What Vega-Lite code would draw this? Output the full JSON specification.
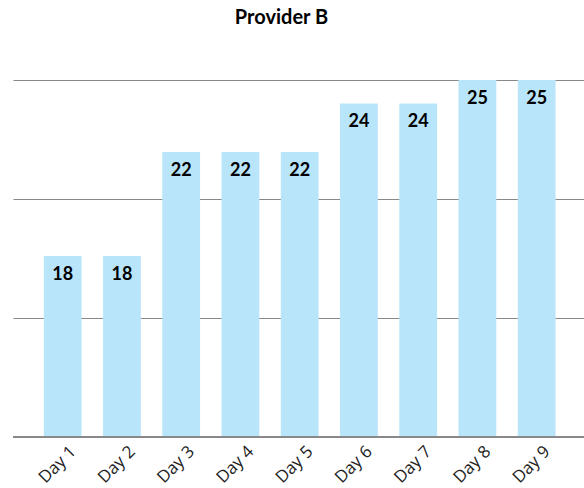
{
  "$schema": "https://vega.github.io/schema/vega-lite/v6.json",
  "autosize": "none",
  "width": 571,
  "height": 357,
  "padding": {"left": 13, "top": 80, "right": 0, "bottom": 51},
  "background": "white",
  "title": {"text": "Provider B", "font": "Lato", "fontSize": 20, "fontWeight": "bold", "color": "#000000", "anchor": "middle", "offset": 52, "dx": -17},
  "data": {"values": [
    {"day": "Day 1", "value": 18},
    {"day": "Day 2", "value": 18},
    {"day": "Day 3", "value": 22},
    {"day": "Day 4", "value": 22},
    {"day": "Day 5", "value": 22},
    {"day": "Day 6", "value": 24},
    {"day": "Day 7", "value": 24},
    {"day": "Day 8", "value": 25},
    {"day": "Day 9", "value": 25}
  ]},
  "encoding": {
    "x": {"field": "day", "type": "nominal", "sort": null,
      "scale": {"paddingInner": 0.362, "paddingOuter": 0.5, "align": 0.52},
      "axis": {"title": null, "labelAngle": -45, "labelFont": "Open Sans", "labelFontSize": 17, "labelColor": "#222222", "ticks": false, "domain": false, "labelPadding": 6, "labelOffset": 5}},
    "y": {"field": "value", "type": "quantitative",
      "scale": {"type": "sqrt", "domain": [12, 25], "zero": false, "nice": false},
      "axis": {"title": null, "labels": false, "ticks": false, "domain": false, "grid": true, "gridColor": "#888888", "gridWidth": 1, "values": [12, 15.81, 20.14, 25]}}
  },
  "layer": [
    {"mark": {"type": "bar", "color": "#b9e5fa"}, "encoding": {"y2": {"datum": 12}}},
    {"mark": {"type": "rule", "color": "#888888", "strokeWidth": 2}, "encoding": {"y": {"datum": 12, "type": "quantitative"}, "x": null}},
    {"mark": {"type": "text", "font": "Lato", "fontSize": 18, "fontWeight": "bold", "color": "#000000", "baseline": "middle", "dy": 19},
      "encoding": {"text": {"field": "value", "type": "quantitative"}}}
  ],
  "config": {"view": {"stroke": null}}
}
